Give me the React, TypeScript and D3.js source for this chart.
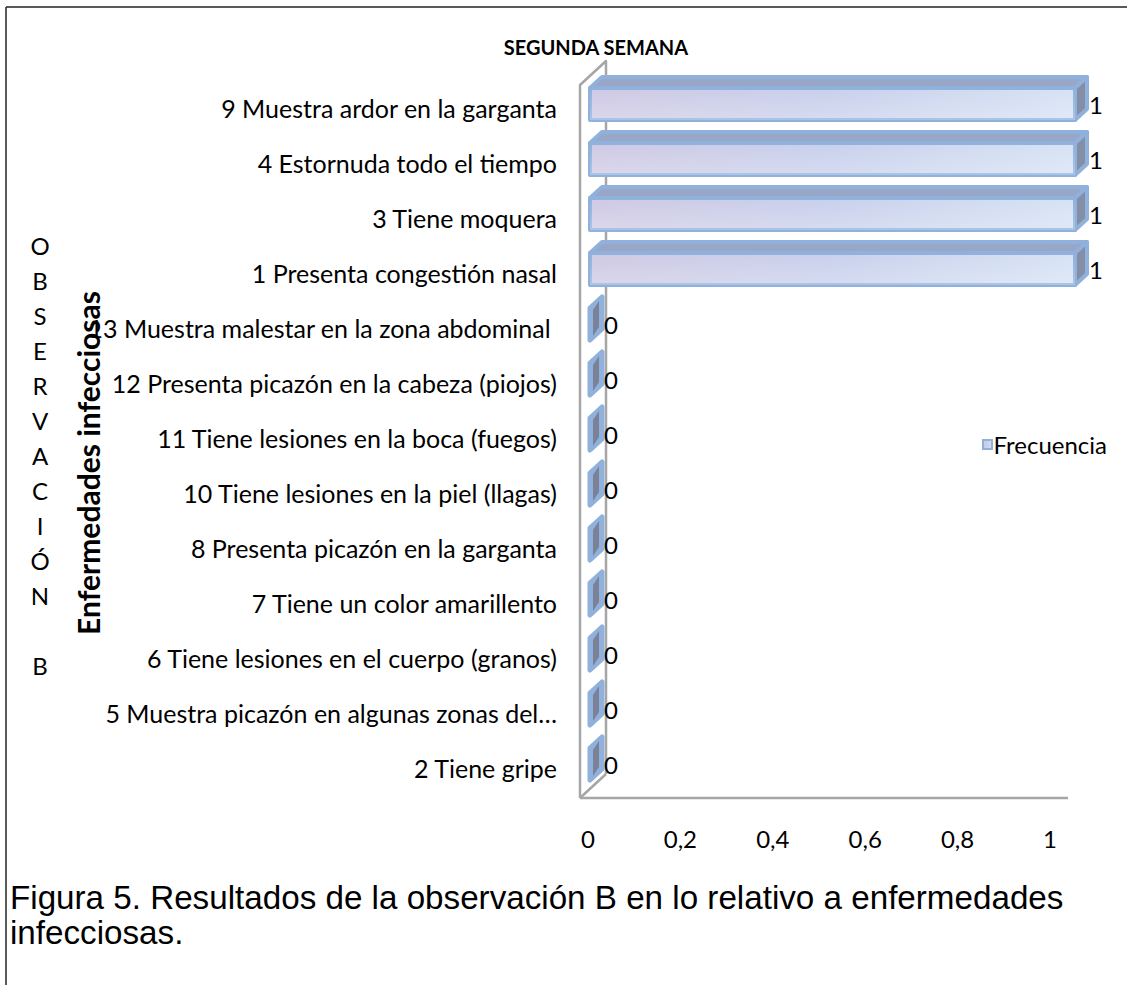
import React from "react";
import * as d3 from "d3";

const categories = [
  "9 Muestra ardor en la garganta",
  "4 Estornuda todo el tiempo",
  "3 Tiene moquera",
  "1 Presenta congestión nasal",
  "13 Muestra malestar en la zona abdominal ",
  "12 Presenta picazón en la cabeza (piojos)",
  "11 Tiene lesiones en la boca (fuegos)",
  "10 Tiene lesiones en la piel (llagas)",
  "8 Presenta picazón en la garganta",
  "7 Tiene un color amarillento",
  "6 Tiene lesiones en el cuerpo (granos)",
  "5 Muestra picazón en algunas zonas del…",
  "2 Tiene gripe",
];
const frecuencia = [1, 1, 1, 1, 0, 0, 0, 0, 0, 0, 0, 0, 0];
const xTicks = [0, 0.2, 0.4, 0.6, 0.8, 1];
const sideLetters = ["O", "B", "S", "E", "R", "V", "A", "C", "I", "Ó", "N", "", "B"];
const title = "SEGUNDA SEMANA";
const axisTitle = "Enfermedades infecciosas";
const legendLabel = "Frecuencia";
const caption = [
  "Figura 5. Resultados de la observación B en lo relativo a enfermedades",
  "infecciosas.",
];

const FONT = "Lato, 'Open Sans', sans-serif";

export default function App() {
  const W = 1127;
  const H = 985;
  // scales
  const y = d3.scaleBand<string>().domain(categories).range([80.5, 795.5]).padding(0);
  const xBar = d3.scaleLinear().domain([0, 1]).range([590, 1075]);
  const xFloor = d3.scaleLinear().domain([0, 1]).range([580, 1068]);
  const xLabel = d3.scaleLinear().domain([0, 1]).range([588, 1050]);
  const fmt = (v: number) => d3.format("~g")(v).replace(".", ",");

  const wallDx = 26;
  const wallDy = -24;
  const floorY = 798;
  const wallTop = 85;
  const bdx = 12;
  const bdy = -11;
  const bh = 32;

  const wallColor = "#a6a6a6";
  const edge = "#8fb1dc";

  return (
    <svg
      width={W}
      height={H}
      style={{ position: "absolute", left: 0, top: 0, background: "#fff" }}
      fontFamily={FONT}
    >
      <defs>
        <linearGradient id="barGrad" x1="0" x2="1" y1="0" y2="0">
          <stop offset="0" stopColor="#cfc9e4" />
          <stop offset="0.5" stopColor="#c8d0ec" />
          <stop offset="1" stopColor="#d6e2f4" />
        </linearGradient>
        <linearGradient id="barGradV" x1="0" x2="0" y1="0" y2="1">
          <stop offset="0" stopColor="#ffffff" stopOpacity="0" />
          <stop offset="1" stopColor="#ffffff" stopOpacity="0.25" />
        </linearGradient>
      </defs>
      <rect x={0} y={0} width={W} height={H} fill="#fff" />
      {/* outer border */}
      <line x1={6} y1={7} x2={W} y2={7} stroke="#222" strokeWidth={1.5} />
      <line x1={6} y1={7} x2={6} y2={H} stroke="#222" strokeWidth={1.5} />

      {/* title */}
      <text x={596} y={47} textAnchor="middle" dominantBaseline="central" fontWeight="bold" fontSize={20} fill="#000">
        {title}
      </text>

      {/* 3D wall */}
      <g stroke={wallColor} strokeWidth={2.5} fill="none" strokeLinejoin="round">
        <path
          d={`M${xFloor(0)},${floorY} L${xFloor(0)},${wallTop} L${xFloor(0) + wallDx},${wallTop + wallDy} L${xFloor(0) + wallDx},${floorY + wallDy}`}
        />
        <path d={`M${xFloor(0)},${floorY} L${xFloor(0) + wallDx},${floorY + wallDy}`} />
        <line x1={xFloor(0)} y1={floorY} x2={xFloor(1)} y2={floorY} />
      </g>

      {/* bars */}
      {categories.map((c, i) => {
        const v = frecuencia[i];
        const cy = (y(c) as number) + y.bandwidth() / 2;
        const top = cy - 20;
        const x0 = xBar(0);
        const x1 = xBar(v);
        const topFace = `M${x0},${top} L${x0 + bdx},${top + bdy} L${x1 + bdx},${top + bdy} L${x1},${top} Z`;
        const sideFace = `M${x1},${top} L${x1 + bdx},${top + bdy} L${x1 + bdx},${top + bh + bdy} L${x1},${top + bh} Z`;
        return (
          <g key={c}>
            {v > 0 ? (
              <g strokeLinejoin="round">
                <path d={topFace} fill="#98a6c7" stroke={edge} strokeWidth={4} />
                <path d={sideFace} fill="#848fa7" stroke={edge} strokeWidth={4} />
                <rect x={x0} y={top} width={x1 - x0} height={bh} fill="url(#barGrad)" stroke={edge} strokeWidth={4} />
                <rect x={x0} y={top} width={x1 - x0} height={bh} fill="url(#barGradV)" />
              </g>
            ) : (
              <g strokeLinejoin="round">
                <path d={sideFace} fill="#8fb1dc" stroke={edge} strokeWidth={5} />
                <path
                  d={`M${x1 + 3},${top + 2} L${x1 + bdx - 3},${top + bdy + 4} L${x1 + bdx - 3},${top + bh + bdy - 2} L${x1 + 3},${top + bh - 4} Z`}
                  fill="#7b8298"
                />
              </g>
            )}
            <text
              x={x1 + bdx + 2}
              y={cy - 4}
              dominantBaseline="central"
              fontSize={24}
              fill="#000"
            >
              {v}
            </text>
            <text
              x={557}
              y={cy}
              dominantBaseline="central"
              textAnchor="end"
              fontSize={25}
              fill="#000"
              style={{ whiteSpace: "pre" }}
            >
              {c}
            </text>
          </g>
        );
      })}

      {/* x tick labels */}
      {xTicks.map((t) => (
        <text key={t} x={xLabel(t)} y={838} textAnchor="middle" dominantBaseline="central" fontSize={24} fill="#000">
          {fmt(t)}
        </text>
      ))}

      {/* stacked side letters */}
      {sideLetters.map((l, i) => (
        <text key={i} x={40} y={245 + i * 35} textAnchor="middle" dominantBaseline="central" fontSize={24} fill="#000">
          {l}
        </text>
      ))}

      {/* axis title */}
      <text
        transform={`translate(88,${463}) rotate(-90)`}
        textAnchor="middle"
        dominantBaseline="central"
        fontWeight="bold"
        fontSize={30}
        fill="#000"
      >
        {axisTitle}
      </text>

      {/* legend */}
      <rect x={983} y={440} width={9} height={9} fill="url(#barGrad)" stroke={edge} strokeWidth={2} />
      <text x={1107} y={444} dominantBaseline="central" textAnchor="end" fontSize={24} fill="#000">
        {legendLabel}
      </text>

      {/* caption */}
      {caption.map((line, i) => (
        <text key={i} x={10} y={909 + i * 35} fontFamily="'Liberation Sans', Arial, sans-serif" fontSize={33.2} fill="#000">
          {line}
        </text>
      ))}
    </svg>
  );
}
